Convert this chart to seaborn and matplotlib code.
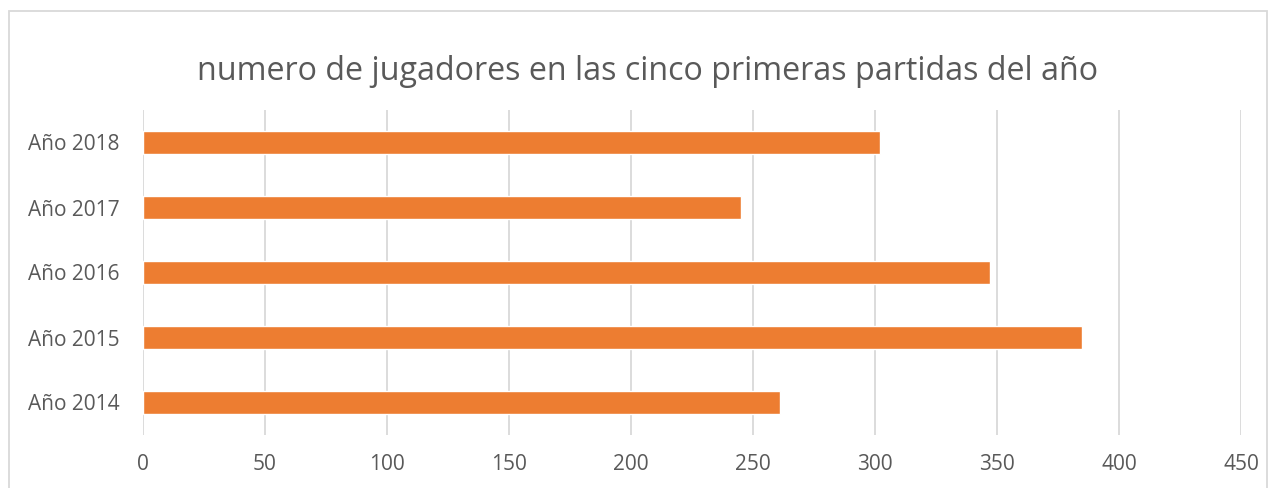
import matplotlib
matplotlib.use("Agg")
import matplotlib.pyplot as plt
import seaborn as sns
import pandas as pd
from matplotlib.patches import Rectangle

categories = ["Año 2018", "Año 2017", "Año 2016", "Año 2015", "Año 2014"]
values = [302, 245, 347, 385, 261]
x_ticks = [0, 50, 100, 150, 200, 250, 300, 350, 400, 450]
title = "numero de jugadores en las cinco primeras partidas del año"

sns.set_theme(style="white")
plt.rcParams['font.family'] = ['Open Sans', 'DejaVu Sans']

df = pd.DataFrame({"cat": categories, "val": values})

fig = plt.figure(figsize=(12.76, 4.88), dpi=100)
ax = fig.add_axes([143/1276, 1-435/488, (1241-143)/1276, (435-110)/488])

sns.barplot(data=df, y="cat", x="val", orient="h", color="#ED7D31",
            width=0.35, saturation=1, ax=ax, zorder=3)

ax.set_xlim(0, 450)
ax.set_ylim(4.5, -0.5)
ax.set_xticks(x_ticks)
ax.set_xticklabels([str(t) for t in x_ticks])
ax.xaxis.grid(True, color="#d9d9d9", linewidth=1.3, zorder=0)
ax.yaxis.grid(False)
ax.set_axisbelow(True)
for s in ax.spines.values():
    s.set_visible(False)
ax.tick_params(axis="x", length=0, pad=14, labelsize=15, labelcolor="#595959")
ax.tick_params(axis="y", length=0, pad=17, labelsize=15, labelcolor="#595959")
ax.set_xlabel("")
ax.set_ylabel("")

fig.text(648/1276, 1-72/488, title, ha="center", va="center",
         fontsize=23.2, color="#595959")

fig.patches.append(Rectangle((9/1276, -0.05), 1 - 18/1276, 1 - 11/488 + 0.05,
                             transform=fig.transFigure, fill=False,
                             edgecolor="#d9d9d9", linewidth=1.3))

fig.savefig("out.png", dpi=100)
